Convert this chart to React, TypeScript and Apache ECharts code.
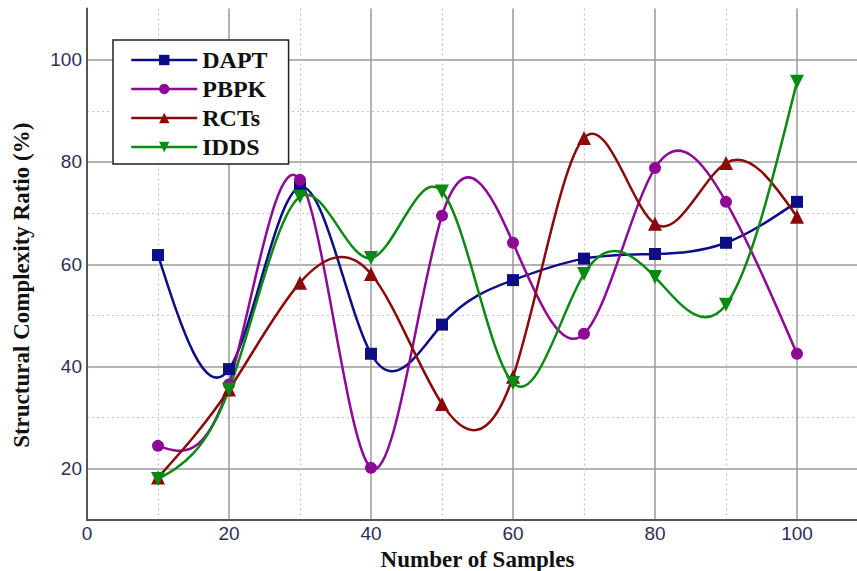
import React, { useEffect, useRef } from "react";
import * as echarts from "echarts";

const samples = [10, 20, 30, 40, 50, 60, 70, 80, 90, 100];
const dapt = [61.8, 39.5, 75.1, 42.5, 48.2, 56.9, 61.1, 62.0, 64.2, 72.2];
const pbpk = [24.5, 36.5, 76.5, 20.2, 69.5, 64.2, 46.4, 78.8, 72.2, 42.5];
const rcts = [18.3, 35.5, 56.4, 58.1, 32.7, 38.0, 84.7, 67.9, 79.8, 69.3];
const idds = [18.0, 35.5, 73.2, 61.2, 74.2, 36.8, 58.1, 57.5, 52.1, 95.7];
const xTickLabels = [0, 20, 40, 60, 80, 100];
const yTickLabels = [20, 40, 60, 80, 100];

const seriesNames = ["DAPT", "PBPK", "RCTs", "IDDS"];
const seriesColors = ["#0d0d85", "#8e0a96", "#8a0a0a", "#0a8a12"];

// natural cubic spline slopes at the knots (data space)
function splineSlopes(xs: number[], ys: number[]): number[] {
  const n = xs.length;
  const h: number[] = [];
  for (let i = 0; i < n - 1; i++) h.push(xs[i + 1] - xs[i]);
  const a: number[] = new Array(n).fill(0);
  const b: number[] = new Array(n).fill(1);
  const c: number[] = new Array(n).fill(0);
  const r: number[] = new Array(n).fill(0);
  for (let i = 1; i < n - 1; i++) {
    a[i] = h[i - 1];
    b[i] = 2 * (h[i - 1] + h[i]);
    c[i] = h[i];
    r[i] = 6 * ((ys[i + 1] - ys[i]) / h[i] - (ys[i] - ys[i - 1]) / h[i - 1]);
  }
  const cp = new Array(n).fill(0);
  const dp = new Array(n).fill(0);
  cp[0] = c[0] / b[0];
  dp[0] = r[0] / b[0];
  for (let i = 1; i < n; i++) {
    const m = b[i] - a[i] * cp[i - 1];
    cp[i] = c[i] / m;
    dp[i] = (r[i] - a[i] * dp[i - 1]) / m;
  }
  const M = new Array(n).fill(0);
  M[n - 1] = dp[n - 1];
  for (let i = n - 2; i >= 0; i--) M[i] = dp[i] - cp[i] * M[i + 1];
  const d: number[] = [];
  for (let i = 0; i < n - 1; i++) {
    d.push((ys[i + 1] - ys[i]) / h[i] - (h[i] * (2 * M[i] + M[i + 1])) / 6);
  }
  const k = n - 2;
  d.push((ys[k + 1] - ys[k]) / h[k] + (h[k] * (M[k] + 2 * M[k + 1])) / 6);
  return d;
}

export default function App() {
  const ref = useRef<HTMLDivElement>(null);
  useEffect(() => {
    if (!ref.current) return;
    const chart = echarts.init(ref.current, undefined, { renderer: "svg" });
    const values = [dapt, pbpk, rcts, idds];
    const symbols = ["rect", "circle", "triangle", "triangle"];
    const sizes = [12, 12, 14, 14];
    const rotates = [0, 0, 0, 180];
    const labelStyle = {
      color: "#2e2e5a",
      fontFamily: "Liberation Sans, Arial, sans-serif",
      fontSize: 19,
    };
    const serifBold = {
      fontFamily: "Liberation Serif, Times New Roman, serif",
      fontWeight: "bold",
      color: "#111111",
    };

    const curveSeries = seriesNames.map((name, si) => {
      const ys = values[si];
      const slopes = splineSlopes(samples, ys);
      return {
        name: name + " curve",
        type: "custom",
        xAxisIndex: 0,
        yAxisIndex: 0,
        clip: false,
        silent: true,
        data: samples.map((x, j) => [x, ys[j]]),
        encode: { x: 0, y: 1 },
        renderItem: (params: any, api: any) => {
          const i = params.dataIndex;
          if (i >= samples.length - 1) return null;
          const h = samples[i + 1] - samples[i];
          const p0 = api.coord([samples[i], ys[i]]);
          const p1 = api.coord([samples[i + 1], ys[i + 1]]);
          const c1 = api.coord([samples[i] + h / 3, ys[i] + (h / 3) * slopes[i]]);
          const c2 = api.coord([samples[i + 1] - h / 3, ys[i + 1] - (h / 3) * slopes[i + 1]]);
          return {
            type: "bezierCurve",
            shape: {
              x1: p0[0], y1: p0[1], x2: p1[0], y2: p1[1],
              cpx1: c1[0], cpy1: c1[1], cpx2: c2[0], cpy2: c2[1],
            },
            style: { stroke: seriesColors[si], lineWidth: 2.5, fill: "none" },
          };
        },
      };
    });

    const markerSeries = seriesNames.map((name, i) => ({
      name,
      type: "line",
      xAxisIndex: 0,
      yAxisIndex: 0,
      smooth: false,
      data: samples.map((x, j) => [x, values[i][j]]),
      symbol: symbols[i],
      symbolSize: sizes[i],
      symbolRotate: rotates[i],
      showAllSymbol: true,
      color: seriesColors[i],
      lineStyle: { color: seriesColors[i], width: 2.5, opacity: 0 },
      itemStyle: { color: seriesColors[i] },
    }));

    chart.setOption({
      animation: false,
      backgroundColor: "#ffffff",
      grid: { left: 87, right: -11, top: 8.5, bottom: 51, containLabel: false, outerBoundsMode: "none" },
      legend: {
        orient: "vertical",
        left: 113,
        top: 40,
        data: seriesNames.map((name, i) => ({
          name,
          lineStyle: { color: seriesColors[i], width: 2.5, opacity: 1 },
        })),
        backgroundColor: "#ffffff",
        borderColor: "#222222",
        borderWidth: 1.5,
        borderRadius: 0,
        padding: [8, 21, 5, 17],
        itemWidth: 66,
        itemHeight: 13,
        itemGap: 5,
        textStyle: { ...serifBold, fontSize: 24 },
      },
      xAxis: [
        {
          type: "value",
          min: 0,
          max: 110,
          interval: 10,
          name: "Number of Samples",
          nameLocation: "middle",
          nameGap: 22,
          nameTextStyle: { ...serifBold, fontSize: 23 },
          axisLine: { show: true, onZero: false, lineStyle: { color: "#555555", width: 2 } },
          axisTick: { show: false },
          axisLabel: {
            ...labelStyle,
            margin: 4,
            formatter: (v: number) => (xTickLabels.includes(v) ? String(v) : ""),
          },
          splitLine: {
            show: true,
            lineStyle: { color: ["#9a9a9a", "transparent"], width: 1.5, type: "solid" },
          },
        },
        {
          type: "value",
          min: 0,
          max: 110,
          interval: 10,
          position: "top",
          axisLine: { show: false },
          axisTick: { show: false },
          axisLabel: { show: false },
          splitLine: {
            show: true,
            lineStyle: { color: ["transparent", "#c4c4c4"], width: 1.2, type: [2, 3] },
          },
        },
      ],
      yAxis: [
        {
          type: "value",
          min: 10,
          max: 110,
          interval: 10,
          name: "Structural Complexity Ratio (%)",
          nameLocation: "middle",
          nameGap: 54,
          nameRotate: 90,
          nameTextStyle: { ...serifBold, fontSize: 23, padding: [0, 42, 0, 0] },
          axisLine: { show: true, onZero: false, lineStyle: { color: "#555555", width: 2 } },
          axisTick: { show: false },
          axisLabel: {
            ...labelStyle,
            margin: 5,
            formatter: (v: number) => (yTickLabels.includes(v) ? String(v) : ""),
          },
          splitLine: {
            show: true,
            lineStyle: { color: ["transparent", "#9a9a9a"], width: 1.5, type: "solid" },
          },
        },
        {
          type: "value",
          min: 10,
          max: 110,
          interval: 10,
          position: "right",
          axisLine: { show: false },
          axisTick: { show: false },
          axisLabel: { show: false },
          splitLine: {
            show: true,
            showMaxLine: false,
            lineStyle: { color: ["#c4c4c4", "transparent"], width: 1.2, type: [2, 3] },
          },
        },
      ],
      series: [...curveSeries, ...markerSeries],
    });
    return () => chart.dispose();
  }, []);
  return (
    <div
      ref={ref}
      style={{ position: "absolute", left: 0, top: 0, width: 857, height: 571, background: "#fff" }}
    />
  );
}
